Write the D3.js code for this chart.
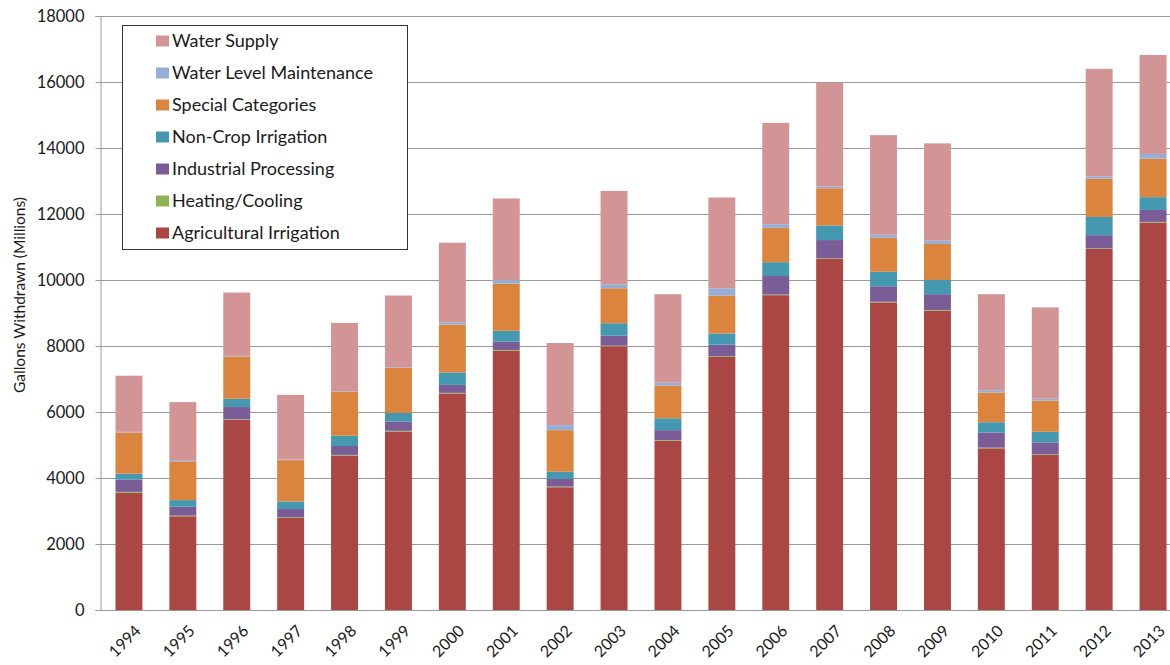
<!DOCTYPE html>
<html>
<head>
<meta charset="utf-8">
<script src="https://cdn.jsdelivr.net/npm/d3@7"></script>
<style>
  html, body { margin: 0; padding: 0; background: #fff; }
  svg { display: block; font-family: Lato, "Open Sans", sans-serif; }
</style>
</head>
<body>
<svg id="chart" width="1170" height="665"></svg>
<script>
// Annual water withdrawals by use category, millions of gallons
const years = ["1994","1995","1996","1997","1998","1999","2000","2001","2002","2003",
               "2004","2005","2006","2007","2008","2009","2010","2011","2012","2013"];

const agriculturalIrrigation = [3550,2840,5760,2790,4680,5410,6560,7860,3720,7990,5130,7670,9540,10640,9320,9070,4900,4700,10940,11740];
const heatingCooling         = [30,20,20,20,20,20,20,20,20,20,20,20,20,20,20,20,20,20,20,20];
const industrialProcessing   = [370,270,370,250,270,280,240,250,230,300,300,350,560,550,470,480,460,360,400,360];
const nonCropIrrigation      = [180,200,250,230,310,260,380,330,220,380,360,340,420,440,440,430,310,320,550,390];
const specialCategories      = [1250,1160,1280,1250,1330,1370,1450,1430,1260,1060,990,1150,1040,1130,1030,1090,900,940,1160,1170];
const waterLevelMaintenance  = [20,30,20,20,20,20,70,110,150,120,90,220,110,50,90,100,70,60,70,140];
const waterSupply            = [1700,1780,1920,1960,2070,2170,2410,2470,2490,2830,2680,2750,3070,3150,3020,2950,2910,2770,3260,3000];

const seriesNames = ["Agricultural Irrigation","Heating/Cooling","Industrial Processing",
                     "Non-Crop Irrigation","Special Categories","Water Level Maintenance","Water Supply"];
const seriesValues = [agriculturalIrrigation, heatingCooling, industrialProcessing,
                      nonCropIrrigation, specialCategories, waterLevelMaintenance, waterSupply];
const seriesColors = ["#AA4644","#8FB253","#7A5C96","#4499B1","#DB843D","#94AED6","#D39495"];

const yTicks = [0,2000,4000,6000,8000,10000,12000,14000,16000,18000];
const yTitle = "Gallons Withdrawn (Millions)";

// one row per year, keyed by series name, for the stack layout
const rows = years.map((yr, i) => {
  const r = { year: yr };
  seriesNames.forEach((name, s) => { r[name] = seriesValues[s][i]; });
  return r;
});
const stacked = d3.stack().keys(seriesNames)(rows);

const svg = d3.select("#chart");
const plotLeft = 100, plotTop = 16, plotBottom = 610;

const x = d3.scaleBand()
  .domain(years)
  .range([102, 1180])
  .paddingInner(0.5)
  .paddingOuter(0.25);

const y = d3.scaleLinear()
  .domain([0, 18000])
  .range([plotBottom, plotTop]);

// horizontal gridlines
svg.append("g")
  .selectAll("line")
  .data(yTicks.filter(t => t > 0))
  .join("line")
  .attr("x1", plotLeft).attr("x2", 1170)
  .attr("y1", d => Math.round(y(d)) + 0.5)
  .attr("y2", d => Math.round(y(d)) + 0.5)
  .attr("stroke", "#9a9a9a")
  .attr("stroke-width", 1);

// y axis with outward ticks
const yAxis = svg.append("g")
  .attr("transform", `translate(${plotLeft + 0.5},0)`)
  .call(d3.axisLeft(y).tickValues(yTicks).tickFormat(d3.format("d")).tickSize(5).tickPadding(11));
yAxis.select(".domain").attr("stroke", "#9a9a9a");
yAxis.selectAll(".tick line").attr("stroke", "#9a9a9a");
yAxis.selectAll(".tick text")
  .attr("fill", "#1a1a1a")
  .style("font-size", "16.5px")
  .style("font-family", "Lato, 'Open Sans', sans-serif");

// stacked bars
svg.append("g")
  .selectAll("g")
  .data(stacked)
  .join("g")
  .attr("fill", (d, i) => seriesColors[i])
  .selectAll("rect")
  .data(d => d)
  .join("rect")
  .attr("x", d => x(d.data.year))
  .attr("width", x.bandwidth())
  .attr("y", d => y(d[1]))
  .attr("height", d => Math.max(0, y(d[0]) - y(d[1])));

// x axis baseline
svg.append("line")
  .attr("x1", plotLeft).attr("x2", 1170)
  .attr("y1", plotBottom + 0.5).attr("y2", plotBottom + 0.5)
  .attr("stroke", "#9a9a9a");

// rotated year labels
svg.append("g")
  .selectAll("text")
  .data(years)
  .join("text")
  .attr("transform", d => `translate(${x(d) + x.bandwidth() / 2 + 5},${plotBottom + 14}) rotate(-45)`)
  .attr("text-anchor", "end")
  .attr("dy", "0.7em")
  .attr("fill", "#1a1a1a")
  .style("font-size", "16px")
  .text(d => d);

// y axis title
svg.append("text")
  .attr("transform", `translate(25,${(plotTop + plotBottom) / 2 - 18}) rotate(-90)`)
  .attr("text-anchor", "middle")
  .attr("fill", "#1a1a1a")
  .style("font-size", "15.5px")
  .text(yTitle);

// legend, top series first
const legend = svg.append("g").attr("transform", "translate(122,25)");
legend.append("rect")
  .attr("x", 0.5).attr("y", 0.5)
  .attr("width", 285).attr("height", 224)
  .attr("fill", "#fff")
  .attr("stroke", "#333")
  .attr("stroke-width", 1);
const legendOrder = d3.range(seriesNames.length).reverse();
const item = legend.selectAll("g.item")
  .data(legendOrder)
  .join("g")
  .attr("class", "item")
  .attr("transform", (d, i) => `translate(34,${16 + i * 32})`);
item.append("rect")
  .attr("x", 0).attr("y", -5.5)
  .attr("width", 13).attr("height", 11)
  .attr("fill", d => seriesColors[d]);
item.append("text")
  .attr("x", 16).attr("y", 0)
  .attr("dy", "0.36em")
  .attr("fill", "#1a1a1a")
  .style("font-size", "18px")
  .text(d => seriesNames[d]);
</script>
</body>
</html>
